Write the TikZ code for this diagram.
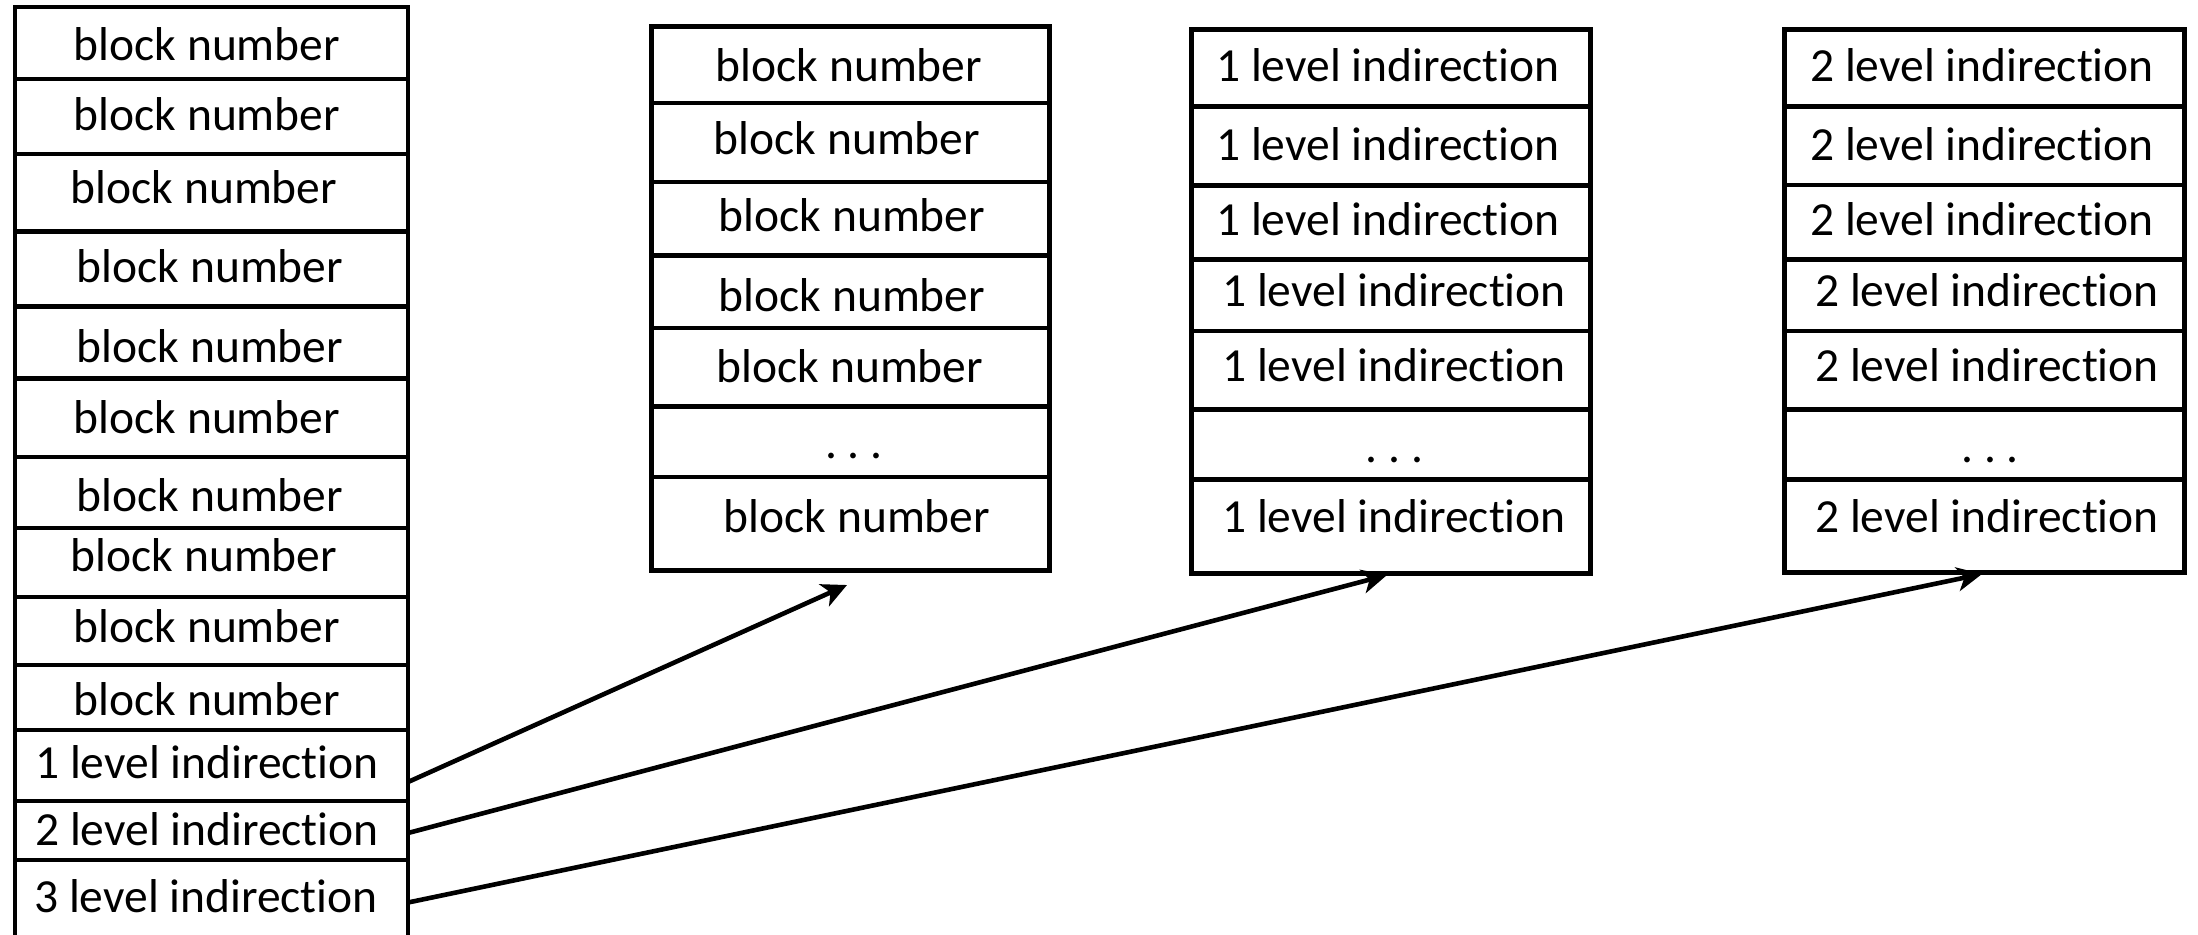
\documentclass[tikz,border=0pt]{standalone}
\usepackage{fontspec}
\setmainfont{Carlito}[Ligatures=NoCommon]
\usetikzlibrary{arrows.meta,calc}
\begin{document}
\begin{tikzpicture}[x=0.5pt,y=-0.5pt,
  cell/.style={draw, line width=2.4pt, rectangle, inner sep=0pt, outer sep=0pt, minimum width=196.5pt},
  frame/.style={draw, line width=2.5pt, rectangle, inner sep=0pt, outer sep=0pt},
  divline/.style={line width=2.3pt},
  txt/.style={anchor=base, inner sep=0pt, font=\fontsize{23.75pt}{28pt}\selectfont},
  arr/.style={line width=2.3pt, -{Stealth[length=12.5pt,width=12pt,inset=3.5pt]}}]
\useasboundingbox (0,0) rectangle (2198,934);
\fill[white] (0,0) rectangle (2198,934);
% left column cells
\foreach \n/\a/\b in {1/7/79,2/79/154,3/154/231.5,4/231.5/306.5,5/306.5/378.5,6/378.5/457,7/457/528,8/528/597,9/597/665,10/665/730,11/730/801,12/801/860,13/860/945}{
  \node[cell, minimum height={(\b-\a)*0.5pt}] (L\n) at (211.5,{(\a+\b)/2}) {};
}
\foreach \n/\x/\y in {1/207/60,2/207/130,3/204/203,4/210/282,5/210/362,6/207/433,7/210/511,8/204/571,9/207/642,10/207/715}{
  \node[txt] (tL\n) at (\x,\y) {block number};
}
\node[txt] (tL11) at (207,778) {1 level indirection};
\node[txt] (tL12) at (207,845) {2 level indirection};
\node[txt] (tL13) at (206,912) {3 level indirection};
% column 2
\node[frame, minimum width=199pt, minimum height=272pt] (C2) at (850,298) {};
\foreach \y in {103,182,255.5,328,406.5,477}{
  \draw[divline] (C2.west |- 0,\y) -- (C2.east |- 0,\y);
}
\foreach \n/\x/\y in {1/849/81,2/847/154,3/852/231.5,4/852/311,5/850/382,7/857/532}{
  \node[txt] (tB\n) at (\x,\y) {block number};
}
\node[txt] (tB6) at (854,458) {.\ .\ .};
% column 3
\node[frame, minimum width=199.5pt, minimum height=272pt] (C3) at (1390.5,301) {};
\foreach \y in {106.5,185.5,259.5,331,409.5,479.5}{
  \draw[divline] (C3.west |- 0,\y) -- (C3.east |- 0,\y);
}
\foreach \n/\x/\y in {1/1388/81,2/1388/160.7,3/1388/235,4/1394/306,5/1394/381,7/1394/532}{
  \node[txt] (tC\n) at (\x,\y) {1 level indirection};
}
\node[txt] (tC6) at (1394.5,462) {.\ .\ .};
% column 4
\node[frame, minimum width=200pt, minimum height=271.25pt] (C4) at (1984,300.75) {};
\foreach \y in {106.5,184.8,259.5,331,409.5,479.5}{
  \draw[divline] (C4.west |- 0,\y) -- (C4.east |- 0,\y);
}
\foreach \n/\x/\y in {1/1982/81,2/1982/160,3/1982/235,4/1987/306,5/1987/381,7/1987/532}{
  \node[txt] (tD\n) at (\x,\y) {2 level indirection};
}
\node[txt] (tD6) at (1990,462) {.\ .\ .};
% arrows
\draw[arr] ([yshift=-8.25pt]L11.east) -- ([xshift=-1.5pt,yshift=-7.5pt]C2.south);
\draw[arr] ([yshift=-1.25pt]L12.east) -- ([xshift=-1.75pt,yshift=-1pt]C3.south);
\draw[arr] (L13.east) -- ([xshift=-1pt,yshift=-1pt]C4.south);
\end{tikzpicture}
\end{document}
